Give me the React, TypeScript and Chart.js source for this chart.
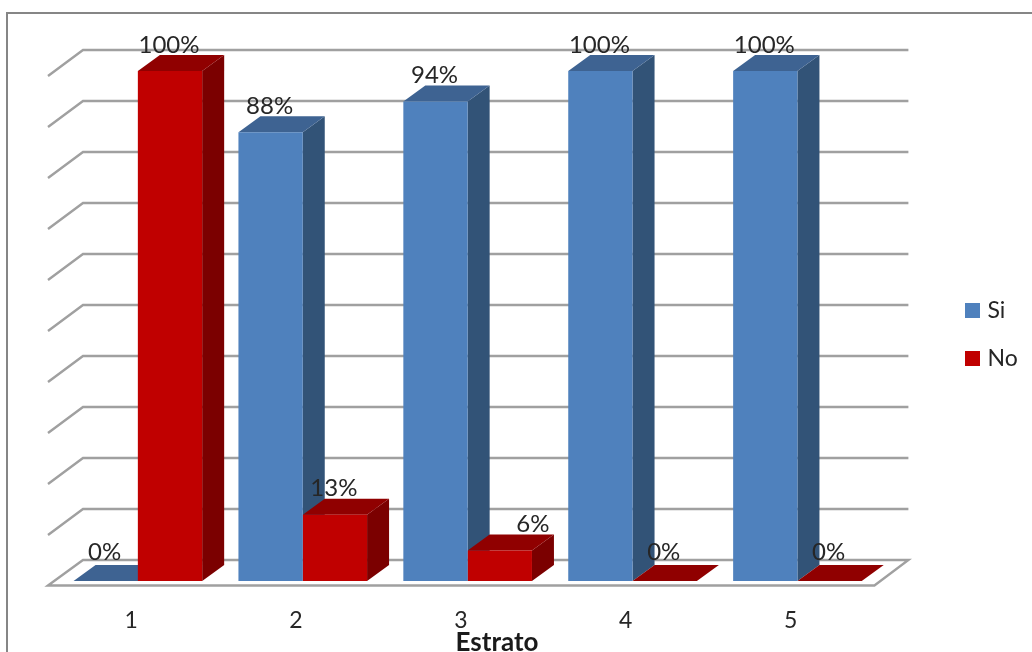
import React, { useEffect, useRef } from "react";
import { Chart, registerables } from "chart.js";

Chart.register(...registerables);

const categories = ["1", "2", "3", "4", "5"];
const siValues = [0, 88, 94, 100, 100];
const noValues = [100, 13, 6, 0, 0];
const xAxisTitle = "Estrato";

const FONT = "Lato, 'Open Sans', sans-serif";
const TEXT = "#262626";
const GRID = "#a0a0a0";

const FACE = [
  { front: "#4f81bd", side: "#325377", top: "#3e6392" },
  { front: "#c00000", side: "#7b0000", top: "#900000" },
];

// Extrusion of each column and of the chart's floor and walls.
const BAR_DX = 22;
const BAR_DY = -16;

function quad(ctx: CanvasRenderingContext2D, pts: number[][], fill: string) {
  ctx.beginPath();
  pts.forEach(([x, y], i) => (i ? ctx.lineTo(x, y) : ctx.moveTo(x, y)));
  ctx.closePath();
  ctx.fillStyle = fill;
  ctx.fill();
}

const frame3d = {
  id: "frame3d",
  afterLayout(chart: any) {
    // Legend and axis title sit at fixed spots beside and under the plot.
    const legend = chart.legend;
    const height = legend.bottom - legend.top;
    legend.left = 944;
    legend.right = 1032;
    legend.top = 274;
    legend.bottom = 274 + height;
    const title = chart.titleBlock;
    title.left = 0;
    title.right = 994;
    title.top = 630;
    title.bottom = 656;
    // Tick labels are clipped to the axis box, so let it reach the page bottom.
    chart.scales.x.bottom = 652;
  },
  beforeDraw(chart: any) {
    const { ctx } = chart;
    ctx.save();
    ctx.strokeStyle = "#868686";
    ctx.lineWidth = 2;
    ctx.strokeRect(7, 13, 1200, 900);
    ctx.restore();
  },
  beforeDatasetsDraw(chart: any) {
    const { ctx, chartArea, scales } = chart;
    const frontL = chartArea.left - 7.4;
    const backL = chartArea.left + 27.6;
    const backR = chartArea.right + 28.5;
    const frontR = chartArea.right - 5.5;
    const y0 = scales.y.getPixelForValue(0);

    ctx.save();
    ctx.strokeStyle = GRID;
    ctx.lineWidth = 2.4;
    ctx.lineJoin = "miter";
    scales.y.ticks.forEach((t: any) => {
      if (t.value === 0) return;
      const y = scales.y.getPixelForValue(t.value);
      ctx.beginPath();
      ctx.moveTo(frontL, y + 5);
      ctx.lineTo(backL, y - 21);
      ctx.lineTo(backR, y - 21);
      ctx.stroke();
    });
    // Floor of the plot
    ctx.beginPath();
    ctx.moveTo(frontL, y0 + 4.5);
    ctx.lineTo(backL, y0 - 21);
    ctx.lineTo(backR, y0 - 21);
    ctx.lineTo(frontR, y0 + 4.5);
    ctx.closePath();
    ctx.stroke();

    // Side and top faces go underneath the front faces the library paints.
    [0, 1].forEach((ds) => {
      chart.getDatasetMeta(ds).data.forEach((bar: any) => {
        const l = bar.x - bar.width / 2;
        const r = bar.x + bar.width / 2;
        const t = bar.y;
        const b = bar.base;
        quad(ctx, [[r, t], [r + BAR_DX, t + BAR_DY], [r + BAR_DX, b + BAR_DY], [r, b]], FACE[ds].side);
        quad(ctx, [[l, t], [r, t], [r + BAR_DX, t + BAR_DY], [l + BAR_DX, t + BAR_DY]], FACE[ds].top);
      });
    });
    ctx.restore();
  },
  afterDatasetsDraw(chart: any) {
    const { ctx } = chart;
    ctx.save();
    ctx.font = `24px ${FONT}`;
    ctx.fillStyle = TEXT;
    ctx.textAlign = "center";
    ctx.textBaseline = "middle";
    [0, 1].forEach((ds) => {
      const values = chart.data.datasets[ds].data;
      chart.getDatasetMeta(ds).data.forEach((bar: any, i: number) => {
        // The 6% label was dragged clear of its column.
        const moved = ds === 1 && values[i] === 6;
        const x = bar.x - 1 + (moved ? 34 : 0);
        const y = bar.y - (values[i] === 0 ? 29 : 26);
        ctx.fillText(`${values[i]}%`, x, y);
      });
    });
    ctx.restore();
  },
};

export default function App() {
  const ref = useRef<HTMLCanvasElement>(null);

  useEffect(() => {
    const chart = new Chart(ref.current!, {
      type: "bar",
      data: {
        labels: categories,
        datasets: [
          { label: "Si", data: siValues, backgroundColor: FACE[0].front, borderWidth: 0 },
          { label: "No", data: noValues, backgroundColor: FACE[1].front, borderWidth: 0 },
        ],
      },
      plugins: [frame3d],
      options: {
        animation: false,
        responsive: false,
        devicePixelRatio: 1,
        layout: { padding: { left: 55.4, right: 92.1, top: 71, bottom: 0 } },
        datasets: { bar: { categoryPercentage: 0.78, barPercentage: 1 } },
        plugins: {
          tooltip: { enabled: false },
          title: {
            display: true,
            text: xAxisTitle,
            position: "bottom",
            padding: 0,
            color: "#1a1a1a",
            font: { family: FONT, size: 26, weight: "bold", lineHeight: 1 },
          },
          legend: {
            position: "right",
            align: "start",
            maxWidth: 60,
            labels: {
              color: TEXT,
              font: { family: FONT, size: 23 },
              padding: 25,
              boxWidth: 7,
              boxHeight: 7,
              generateLabels(chart: any) {
                return Chart.defaults.plugins.legend.labels
                  .generateLabels(chart)
                  .map((item: any) => ({
                    ...item,
                    strokeStyle: item.fillStyle,
                    lineWidth: 8,
                  }));
              },
            },
          },
        },
        scales: {
          x: {
            grid: { display: false },
            border: { display: false },
            ticks: {
              color: TEXT,
              font: { family: FONT, size: 23 },
              padding: 18,
              labelOffset: -6.8,
              maxRotation: 0,
            },
            afterFit(scale: any) {
              scale.height = 45;
            },
          },
          y: {
            min: 0,
            max: 100,
            grid: { display: false },
            border: { display: false },
            ticks: { display: false, stepSize: 10 },
            afterFit(scale: any) {
              scale.width = 0;
            },
          },
        },
      },
    } as any);
    return () => chart.destroy();
  }, []);

  return (
    <canvas
      ref={ref}
      width={1032}
      height={652}
      style={{ position: "absolute", left: 0, top: 0, width: 1032, height: 652, display: "block" }}
    />
  );
}
